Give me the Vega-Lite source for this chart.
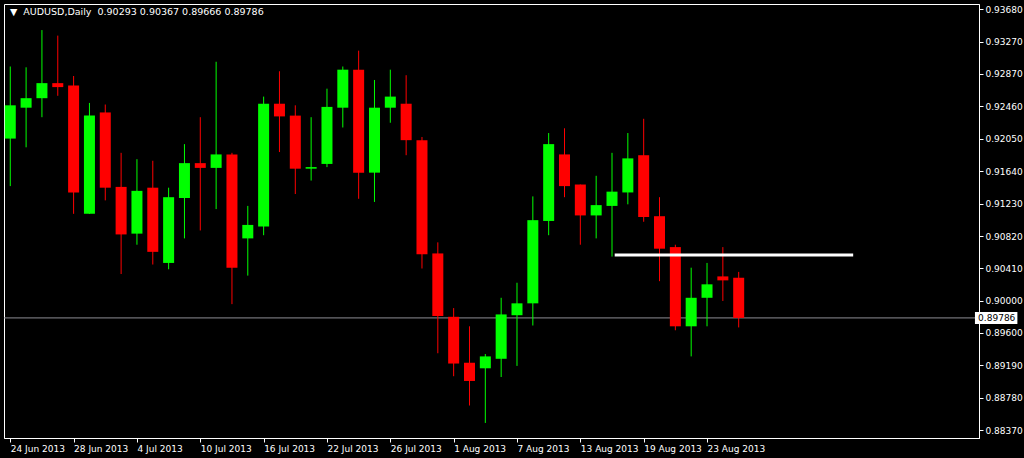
{
  "$schema": "https://vega.github.io/schema/vega-lite/v6.json",
  "autosize": "none",
  "width": 975,
  "height": 434,
  "padding": {"left": 4, "top": 4, "right": 45, "bottom": 20},
  "background": "#000000",
  "view": {"stroke": "#ffffff", "strokeWidth": 1, "fill": "#000000"},
  "title": {
    "text": "▼\u00a0\u00a0AUDUSD,Daily\u00a0\u00a00.90293 0.90367 0.89666 0.89786",
    "anchor": "start",
    "frame": "group",
    "offset": -20,
    "baseline": "alphabetic",
    "dx": 6,
    "color": "#ffffff",
    "font": "DejaVu Sans",
    "fontSize": 9.5,
    "fontWeight": "normal"
  },
  "datasets": {
    "bars": [
      {"date": "2013-06-24", "i": 0, "o": 0.9205, "h": 0.9296, "l": 0.9145, "c": 0.9247},
      {"date": "2013-06-25", "i": 1, "o": 0.9244, "h": 0.9295, "l": 0.9194, "c": 0.9256},
      {"date": "2013-06-26", "i": 2, "o": 0.9256, "h": 0.9342, "l": 0.9232, "c": 0.9275},
      {"date": "2013-06-27", "i": 3, "o": 0.9275, "h": 0.9335, "l": 0.9259, "c": 0.9270},
      {"date": "2013-06-28", "i": 4, "o": 0.9272, "h": 0.9284, "l": 0.9110, "c": 0.9137},
      {"date": "2013-07-01", "i": 5, "o": 0.9110, "h": 0.9250, "l": 0.9110, "c": 0.9234},
      {"date": "2013-07-02", "i": 6, "o": 0.9238, "h": 0.9248, "l": 0.9127, "c": 0.9143},
      {"date": "2013-07-03", "i": 7, "o": 0.9144, "h": 0.9187, "l": 0.9034, "c": 0.9084},
      {"date": "2013-07-04", "i": 8, "o": 0.9085, "h": 0.9179, "l": 0.9071, "c": 0.9139},
      {"date": "2013-07-05", "i": 9, "o": 0.9143, "h": 0.9177, "l": 0.9046, "c": 0.9062},
      {"date": "2013-07-08", "i": 10, "o": 0.9048, "h": 0.9143, "l": 0.9040, "c": 0.9131},
      {"date": "2013-07-09", "i": 11, "o": 0.9130, "h": 0.9198, "l": 0.9079, "c": 0.9174},
      {"date": "2013-07-10", "i": 12, "o": 0.9174, "h": 0.9232, "l": 0.9089, "c": 0.9168},
      {"date": "2013-07-11", "i": 13, "o": 0.9168, "h": 0.9302, "l": 0.9116, "c": 0.9185},
      {"date": "2013-07-12", "i": 14, "o": 0.9185, "h": 0.9187, "l": 0.8996, "c": 0.9042},
      {"date": "2013-07-15", "i": 15, "o": 0.9079, "h": 0.9120, "l": 0.9032, "c": 0.9096},
      {"date": "2013-07-16", "i": 16, "o": 0.9094, "h": 0.9258, "l": 0.9083, "c": 0.9249},
      {"date": "2013-07-17", "i": 17, "o": 0.9249, "h": 0.9290, "l": 0.9188, "c": 0.9233},
      {"date": "2013-07-18", "i": 18, "o": 0.9234, "h": 0.9247, "l": 0.9135, "c": 0.9167},
      {"date": "2013-07-19", "i": 19, "o": 0.9167, "h": 0.9232, "l": 0.9152, "c": 0.9169},
      {"date": "2013-07-22", "i": 20, "o": 0.9173, "h": 0.9268, "l": 0.9169, "c": 0.9245},
      {"date": "2013-07-23", "i": 21, "o": 0.9244, "h": 0.9296, "l": 0.9219, "c": 0.9292},
      {"date": "2013-07-24", "i": 22, "o": 0.9292, "h": 0.9316, "l": 0.9129, "c": 0.9162},
      {"date": "2013-07-25", "i": 23, "o": 0.9162, "h": 0.9279, "l": 0.9125, "c": 0.9244},
      {"date": "2013-07-26", "i": 24, "o": 0.9244, "h": 0.9292, "l": 0.9225, "c": 0.9258},
      {"date": "2013-07-29", "i": 25, "o": 0.9249, "h": 0.9285, "l": 0.9184, "c": 0.9203},
      {"date": "2013-07-30", "i": 26, "o": 0.9203, "h": 0.9207, "l": 0.9041, "c": 0.9059},
      {"date": "2013-07-31", "i": 27, "o": 0.9060, "h": 0.9074, "l": 0.8934, "c": 0.8981},
      {"date": "2013-08-01", "i": 28, "o": 0.8980, "h": 0.8991, "l": 0.8905, "c": 0.8921},
      {"date": "2013-08-02", "i": 29, "o": 0.8922, "h": 0.8968, "l": 0.8868, "c": 0.8899},
      {"date": "2013-08-05", "i": 30, "o": 0.8915, "h": 0.8933, "l": 0.8846, "c": 0.8930},
      {"date": "2013-08-06", "i": 31, "o": 0.8927, "h": 0.9004, "l": 0.8904, "c": 0.8983},
      {"date": "2013-08-07", "i": 32, "o": 0.8982, "h": 0.9023, "l": 0.8918, "c": 0.8997},
      {"date": "2013-08-08", "i": 33, "o": 0.8997, "h": 0.9132, "l": 0.8969, "c": 0.9102},
      {"date": "2013-08-09", "i": 34, "o": 0.9101, "h": 0.9212, "l": 0.9083, "c": 0.9198},
      {"date": "2013-08-12", "i": 35, "o": 0.9185, "h": 0.9218, "l": 0.9131, "c": 0.9145},
      {"date": "2013-08-13", "i": 36, "o": 0.9147, "h": 0.9147, "l": 0.9071, "c": 0.9108},
      {"date": "2013-08-14", "i": 37, "o": 0.9108, "h": 0.9158, "l": 0.9079, "c": 0.9121},
      {"date": "2013-08-15", "i": 38, "o": 0.9120, "h": 0.9187, "l": 0.9056, "c": 0.9138},
      {"date": "2013-08-16", "i": 39, "o": 0.9137, "h": 0.9212, "l": 0.9122, "c": 0.9180},
      {"date": "2013-08-19", "i": 40, "o": 0.9184, "h": 0.9230, "l": 0.9100, "c": 0.9106},
      {"date": "2013-08-20", "i": 41, "o": 0.9107, "h": 0.9131, "l": 0.9025, "c": 0.9066},
      {"date": "2013-08-21", "i": 42, "o": 0.9068, "h": 0.9071, "l": 0.8963, "c": 0.8968},
      {"date": "2013-08-22", "i": 43, "o": 0.8968, "h": 0.9042, "l": 0.8930, "c": 0.9004},
      {"date": "2013-08-23", "i": 44, "o": 0.9004, "h": 0.9048, "l": 0.8968, "c": 0.9021},
      {"date": "2013-08-26", "i": 45, "o": 0.9031, "h": 0.9068, "l": 0.9000, "c": 0.9026},
      {"date": "2013-08-27", "i": 46, "o": 0.90293, "h": 0.90367, "l": 0.89666, "c": 0.89786}
    ],
    "last": [{"price": 0.89786}],
    "trend": [{"from": 38.17, "to": 53.23, "level": 0.90579}]
  },
  "encoding": {
    "x": {
      "type": "quantitative",
      "scale": {"domain": [-0.08, 60.86], "nice": false, "zero": false},
      "axis": {
        "orient": "bottom",
        "title": null,
        "values": [0, 4, 8, 12, 16, 20, 24, 28, 32, 36, 40, 44],
        "labelExpr": "['24 Jun 2013','28 Jun 2013','4 Jul 2013','10 Jul 2013','16 Jul 2013','22 Jul 2013','26 Jul 2013','1 Aug 2013','7 Aug 2013','13 Aug 2013','19 Aug 2013','23 Aug 2013'][datum.value / 4]",
        "labelAlign": "left",
        "labelBaseline": "top",
        "labelPadding": 2,
        "tickSize": 4,
        "labelFlush": false,
        "labelOverlap": false,
        "grid": false
      }
    },
    "y": {
      "type": "quantitative",
      "scale": {"domain": [0.88333, 0.93686], "nice": false, "zero": false},
      "axis": {
        "orient": "right",
        "title": null,
        "values": [0.8837, 0.8878, 0.8919, 0.896, 0.9, 0.9041, 0.9082, 0.9123, 0.9164, 0.9205, 0.9246, 0.9287, 0.9327, 0.9368],
        "format": ".5f",
        "tickSize": 4,
        "labelPadding": 2,
        "labelFlush": false,
        "labelOverlap": false,
        "grid": false
      }
    }
  },
  "layer": [
    {
      "data": {"name": "last"},
      "mark": {"type": "rule", "color": "#8c8c94", "strokeWidth": 1},
      "encoding": {"y": {"field": "price"}}
    },
    {
      "data": {"name": "bars"},
      "mark": {"type": "rule", "strokeWidth": 1, "clip": true},
      "encoding": {
        "x": {"field": "i"},
        "y": {"field": "l"},
        "y2": {"field": "h"},
        "color": {"condition": {"test": "datum.c >= datum.o", "value": "#00ff00"}, "value": "#ff0000"}
      }
    },
    {
      "data": {"name": "bars"},
      "mark": {"type": "bar", "size": 11, "clip": true},
      "encoding": {
        "x": {"field": "i"},
        "y": {"field": "o"},
        "y2": {"field": "c"},
        "color": {"condition": {"test": "datum.c >= datum.o", "value": "#00ff00"}, "value": "#ff0000"}
      }
    },
    {
      "data": {"name": "trend"},
      "mark": {"type": "rule", "color": "#ffffff", "strokeWidth": 3},
      "encoding": {
        "x": {"field": "from"},
        "x2": {"field": "to"},
        "y": {"field": "level"}
      }
    },
    {
      "data": {"name": "last"},
      "mark": {"type": "bar", "color": "#ffffff", "size": 12, "clip": false},
      "encoding": {
        "x": {"datum": 60.92},
        "x2": {"datum": 63.6},
        "y": {"field": "price"}
      }
    },
    {
      "data": {"name": "last"},
      "mark": {"type": "text", "color": "#000000", "align": "left", "baseline": "middle", "font": "DejaVu Sans", "fontSize": 9, "clip": false},
      "encoding": {
        "x": {"datum": 61.12},
        "y": {"field": "price"},
        "text": {"field": "price", "format": ".5f"}
      }
    }
  ],
  "config": {
    "axis": {
      "domainColor": "#ffffff",
      "tickColor": "#ffffff",
      "labelColor": "#ffffff",
      "labelFont": "DejaVu Sans",
      "labelFontSize": 9
    }
  }
}
